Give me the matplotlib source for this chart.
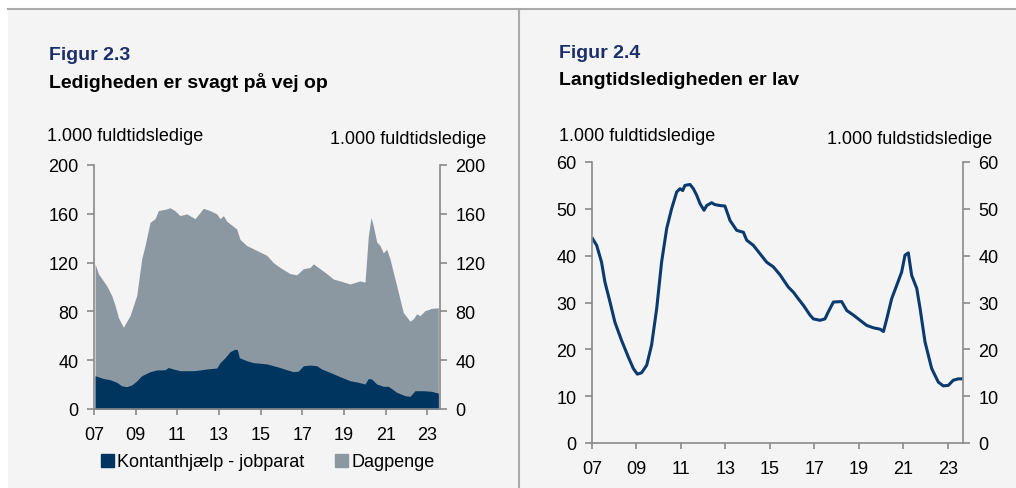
import matplotlib.pyplot as plt
from matplotlib.patches import Patch, Rectangle
from matplotlib.lines import Line2D

plt.rcParams['font.family'] = ['Liberation Sans', 'DejaVu Sans']

NAVY = "#00355f"
GREY = "#8c98a1"
TITLE = "#1c2f6b"
AXIS = "#8a8a8a"
PANEL = "#f4f4f4"
FS = 13
FS_TITLE = 14

# Figur 2.3 - samlet ledighed (top af graa flade) og kontanthjaelp (navy)
samlet_aar = [2007.05, 2007.21, 2007.61, 2007.85, 2008.01, 2008.17, 2008.41,
              2008.73, 2009.05, 2009.29, 2009.45, 2009.69, 2009.93, 2010.09,
              2010.49, 2010.65, 2010.89, 2011.13, 2011.45, 2011.85, 2012.25,
              2012.57, 2012.89, 2013.05, 2013.21, 2013.37, 2013.85, 2014.01,
              2014.33, 2014.81, 2015.29, 2015.61, 2015.93, 2016.41, 2016.73,
              2017.05, 2017.37, 2017.53, 2017.85, 2018.17, 2018.49, 2018.81,
              2019.29, 2019.77, 2020.01, 2020.17, 2020.30, 2020.41, 2020.57,
              2020.73, 2020.89, 2021.05, 2021.21, 2021.53, 2021.85, 2022.17,
              2022.33, 2022.49, 2022.65, 2022.89, 2023.21, 2023.53]
samlet = [119, 111, 101, 93, 85, 75, 67,
          76.5, 93, 123, 134, 153, 156, 162.6,
          164, 165, 162.5, 158.5, 160, 156, 164.5,
          162.6, 160, 156, 158.5, 154, 147.5, 139,
          134, 130, 126, 120, 116, 111, 110,
          115, 116, 119, 115, 111, 106.5, 105,
          102.5, 105, 104, 142, 157, 150, 137,
          134, 128, 131, 123, 101, 79, 72,
          74, 78, 76.5, 80.6, 82.5, 83]

kontant_aar = [2007.05, 2007.45, 2007.77, 2008.09, 2008.33, 2008.57, 2008.81,
               2009.05, 2009.29, 2009.69, 2010.01, 2010.41, 2010.57, 2010.81,
               2011.13, 2011.77, 2012.09, 2012.41, 2012.89, 2013.05, 2013.29,
               2013.53, 2013.77, 2013.88, 2013.98, 2014.33, 2014.65, 2015.29,
               2015.61, 2015.93, 2016.25, 2016.57, 2016.81, 2017.05, 2017.37,
               2017.69, 2017.93, 2018.33, 2018.81, 2019.29, 2019.69, 2020.01,
               2020.17, 2020.33, 2020.57, 2020.89, 2021.13, 2021.53, 2021.93,
               2022.17, 2022.41, 2022.81, 2023.21, 2023.37, 2023.53]
kontant = [27.3, 25, 24, 21.9, 19, 18.3, 19.7,
           23, 27.3, 30.6, 32, 32.2, 34, 32.8,
           31.4, 31.4, 32, 32.8, 33.6, 38, 42,
           47, 49, 48.6, 42, 39.6, 38, 37,
           35.5, 34, 32.2, 30.6, 31, 35.5, 36,
           35.5, 32.8, 30, 26.5, 23.2, 21.9, 20.5,
           25, 24.6, 20.5, 18.6, 18.6, 13.7, 10.9,
           10.4, 15, 15, 14.5, 13.7, 13]

# Figur 2.4 - langtidsledige
lang_aar = [2007.03, 2007.21, 2007.43, 2007.58, 2007.81, 2008.03, 2008.33,
            2008.63, 2008.86, 2009.04, 2009.23, 2009.46, 2009.68, 2009.91,
            2010.13, 2010.36, 2010.58, 2010.81, 2010.96, 2011.08, 2011.18,
            2011.41, 2011.56, 2011.71, 2011.86, 2012.04, 2012.16, 2012.38,
            2012.53, 2012.76, 2012.98, 2013.21, 2013.51, 2013.81, 2013.96,
            2014.26, 2014.56, 2014.86, 2015.16, 2015.46, 2015.83, 2016.06,
            2016.28, 2016.51, 2016.81, 2016.96, 2017.26, 2017.48, 2017.63,
            2017.86, 2018.23, 2018.46, 2018.76, 2019.06, 2019.36, 2019.66,
            2019.96, 2020.11, 2020.26, 2020.48, 2020.71, 2020.93, 2021.08,
            2021.23, 2021.38, 2021.61, 2021.76, 2021.98, 2022.28, 2022.58,
            2022.80, 2023.03, 2023.25, 2023.48, 2023.63]
lang = [43.6, 42.2, 38.6, 34.4, 30.1, 25.8, 21.9,
        18.4, 15.9, 14.7, 15.0, 16.6, 20.9, 28.7,
        38.6, 45.8, 50, 53.6, 54.3, 53.9, 55.0,
        55.2, 54.3, 52.9, 51.1, 49.7, 50.7, 51.3,
        50.9, 50.7, 50.6, 47.5, 45.4, 45.0, 43.3,
        42.2, 40.4, 38.6, 37.6, 35.9, 33.3, 32.2,
        30.8, 29.4, 27.3, 26.5, 26.2, 26.5, 28.0,
        30.1, 30.2, 28.3, 27.3, 26.2, 25.1, 24.6,
        24.3, 23.8, 26.5, 30.8, 33.7, 36.5, 40.1,
        40.6, 35.8, 33.0, 28.7, 21.6, 15.9, 13.0,
        12.2, 12.3, 13.4, 13.7, 13.7]

x_ticks = [2007, 2009, 2011, 2013, 2015, 2017, 2019, 2021, 2023]
x_labels = ["07", "09", "11", "13", "15", "17", "19", "21", "23"]


def style_axes(ax, ymax, ystep, xmax):
    ax.set_facecolor(PANEL)
    ax.set_xlim(2007, xmax)
    ax.set_ylim(0, ymax)
    ax.set_yticks(range(0, ymax + 1, ystep))
    ax.set_xticks(x_ticks)
    ax.set_xticklabels(x_labels)
    ax.spines["top"].set_visible(False)
    for s in ["left", "right", "bottom"]:
        ax.spines[s].set_color(AXIS)
        ax.spines[s].set_linewidth(1.2)
    ax.tick_params(axis="y", direction="out", length=5, width=1.2, color=AXIS,
                   labelsize=FS, pad=6, left=True, right=True,
                   labelleft=True, labelright=True)
    ax.tick_params(axis="x", direction="out", length=4, width=1.2, color=AXIS,
                   labelsize=FS, pad=8)


fig = plt.figure(figsize=(10.16, 4.89), dpi=100)
fig.patch.set_facecolor("white")

# graa baggrundspanel med top-linje og skillelinje
fig.patches.append(Rectangle((8 / 1016, 0), 1 - 8 / 1016, 1 - 10 / 489,
                             transform=fig.transFigure, facecolor=PANEL,
                             edgecolor="none", zorder=-5))
fig.lines.append(Line2D([8 / 1016, 1], [1 - 10 / 489] * 2,
                        transform=fig.transFigure, color="#aaaaaa", lw=1.5,
                        zorder=-4))
fig.lines.append(Line2D([519 / 1016] * 2, [0, 1 - 10 / 489],
                        transform=fig.transFigure, color="#aaaaaa", lw=1.5,
                        zorder=-4))

# Figur 2.3
ax1 = fig.add_axes([94 / 1016, 79 / 489, 346 / 1016, 244 / 489])
ax1.fill_between(samlet_aar, 0, samlet, color=GREY, lw=0, zorder=1)
ax1.fill_between(kontant_aar, 0, kontant, color=NAVY, lw=0, zorder=2)
style_axes(ax1, 200, 40, 2023.61)

fig.text(49 / 1016, 1 - 55 / 489, "Figur 2.3", color=TITLE, fontsize=FS_TITLE,
         fontweight="bold", va="center")
fig.text(49 / 1016, 1 - 82 / 489, "Ledigheden er svagt på vej op",
         fontsize=FS_TITLE, fontweight="bold", va="center")
fig.text(47 / 1016, 1 - 137 / 489, "1.000 fuldtidsledige", fontsize=FS,
         va="center")
fig.text(486 / 1016, 1 - 139 / 489, "1.000 fuldtidsledige", fontsize=FS,
         va="center", ha="right")

handles = [Patch(color=NAVY, label="Kontanthjælp - jobparat"),
           Patch(color=GREY, label="Dagpenge")]
fig.legend(handles=handles, loc="center",
           bbox_to_anchor=(268 / 1016, 1 - 463 / 489),
           ncol=2, frameon=False, fontsize=FS, handlelength=0.7,
           handleheight=0.7, handletextpad=0.2, columnspacing=1.7)

# Figur 2.4
ax2 = fig.add_axes([592 / 1016, 45 / 489, 371 / 1016, 281 / 489])
ax2.plot(lang_aar, lang, color="#0b3a6e", lw=2.2)
style_axes(ax2, 60, 10, 2023.69)

fig.text(559 / 1016, 1 - 54 / 489, "Figur 2.4", color=TITLE, fontsize=FS_TITLE,
         fontweight="bold", va="center")
fig.text(559 / 1016, 1 - 81 / 489, "Langtidsledigheden er lav",
         fontsize=FS_TITLE, fontweight="bold", va="center")
fig.text(559 / 1016, 1 - 137 / 489, "1.000 fuldtidsledige", fontsize=FS,
         va="center")
fig.text(992 / 1016, 1 - 139 / 489, "1.000 fuldstidsledige", fontsize=FS,
         va="center", ha="right")

fig.savefig("out.png", dpi=100, facecolor=fig.get_facecolor())
